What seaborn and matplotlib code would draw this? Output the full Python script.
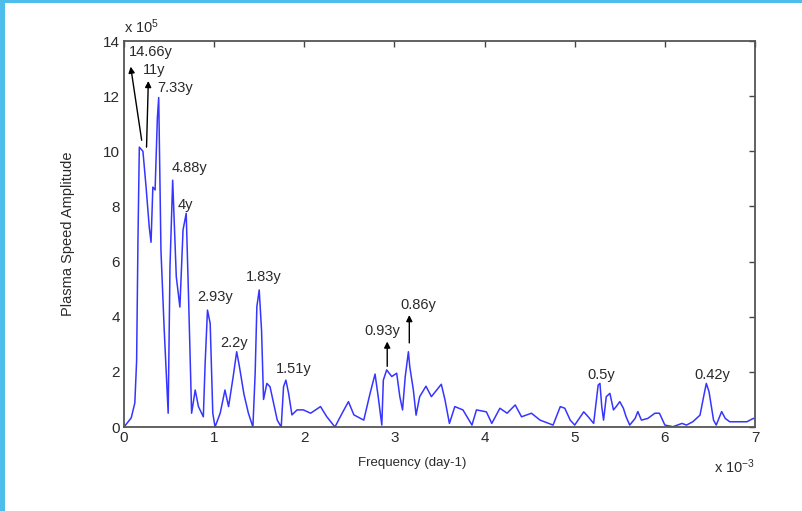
import numpy as np
import pandas as pd
import matplotlib
matplotlib.use("Agg")
import matplotlib.pyplot as plt
import seaborn as sns
from matplotlib.patches import Rectangle

# Frequency in units of 1e-3 day^-1, amplitude in units of 1e5
freq = [0, 0.08, 0.12, 0.14, 0.155, 0.17, 0.21, 0.245, 0.28, 0.30, 0.32, 0.345, 0.37, 0.385,
        0.41, 0.445, 0.49, 0.51, 0.54, 0.58, 0.62, 0.655, 0.69, 0.715, 0.75, 0.79, 0.826,
        0.88, 0.9, 0.926, 0.956, 0.985, 1.01, 1.067, 1.12, 1.16, 1.21, 1.25, 1.28, 1.33,
        1.38, 1.43, 1.455, 1.474, 1.5, 1.526, 1.548, 1.585, 1.62, 1.66, 1.70, 1.744, 1.77,
        1.796, 1.826, 1.863, 1.92, 1.99, 2.07, 2.18, 2.25, 2.34, 2.42, 2.49, 2.55, 2.66,
        2.73, 2.785, 2.82, 2.86, 2.877, 2.914, 2.97, 3.025, 3.06, 3.09, 3.12, 3.155, 3.17,
        3.21, 3.24, 3.28, 3.35, 3.41, 3.52, 3.56, 3.61, 3.67, 3.76, 3.86, 3.91, 4.02, 4.08,
        4.17, 4.25, 4.34, 4.41, 4.52, 4.615, 4.76, 4.84, 4.89, 4.95, 5.0, 5.1, 5.15, 5.21,
        5.26, 5.28, 5.30, 5.32, 5.35, 5.39, 5.43, 5.46, 5.5, 5.54, 5.57, 5.61, 5.67, 5.70,
        5.74, 5.81, 5.89, 5.94, 6.0, 6.09, 6.19, 6.24, 6.31, 6.39, 6.43, 6.46, 6.49, 6.54,
        6.57, 6.63, 6.67, 6.72, 6.83, 6.91, 6.98, 7.0]
amp = [0, 0.33, 0.87, 2.4, 6.8, 10.15, 10.0, 8.7, 7.25, 6.7, 8.7, 8.6, 11.2, 11.95,
       6.4, 3.6, 0.5, 5.8, 8.95, 5.45, 4.35, 7.15, 7.75, 4.85, 0.5, 1.34, 0.74,
       0.37, 2.3, 4.24, 3.76, 0.5, 0.0, 0.5, 1.34, 0.74, 1.8, 2.73, 2.2, 1.2,
       0.5, 0.0, 1.95, 4.37, 4.97, 3.5, 1.0, 1.58, 1.46, 0.86, 0.25, 0.0, 1.46,
       1.7, 1.22, 0.44, 0.62, 0.62, 0.5, 0.74, 0.37, 0.0, 0.5, 0.92, 0.44, 0.25,
       1.22, 1.92, 1.1, 0.07, 1.7, 2.07, 1.83, 1.95, 1.1, 0.62, 1.83, 2.73, 2.19,
       1.34, 0.43, 1.1, 1.48, 1.1, 1.55, 1.0, 0.13, 0.74, 0.62, 0.07, 0.62, 0.55, 0.13,
       0.68, 0.5, 0.8, 0.37, 0.5, 0.25, 0.07, 0.74, 0.68, 0.25, 0.07, 0.55, 0.37, 0.13,
       1.52, 1.58, 0.74, 0.25, 1.1, 1.22, 0.62, 0.74, 0.92, 0.68, 0.37, 0.07, 0.31, 0.56,
       0.25, 0.31, 0.5, 0.5, 0.07, 0.01, 0.13, 0.07, 0.19, 0.43, 1.1, 1.58, 1.28, 0.25,
       0.07, 0.56, 0.31, 0.19, 0.19, 0.19, 0.31, 0.3]

labels = ["14.66y", "11y", "7.33y", "4.88y", "4y", "2.93y", "2.2y", "1.83y",
          "1.51y", "0.93y", "0.86y", "0.5y", "0.42y"]
label_x = [0.05, 0.21, 0.37, 0.53, 0.60, 0.81, 1.07, 1.35, 1.68, 2.67, 3.07, 5.14, 6.33]
label_y = [13.6, 12.95, 12.3, 9.4, 8.05, 4.7, 3.05, 5.45, 2.1, 3.5, 4.42, 1.9, 1.9]

# arrows: (tail_x, tail_y, head_x, head_y)
arrow_tail_x = [0.196, 0.25, 2.92, 3.165]
arrow_tail_y = [10.4, 10.15, 2.2, 3.05]
arrow_head_x = [0.074, 0.27, 2.92, 3.165]
arrow_head_y = [13.07, 12.55, 3.1, 4.06]

xticks = list(range(0, 8))
yticks = list(range(0, 15, 2))

df = pd.DataFrame({"freq": freq, "amp": amp})

sns.set_style("white")
plt.rcParams["font.family"] = ["Liberation Sans", "DejaVu Sans"]
plt.rcParams["mathtext.fontset"] = "custom"
plt.rcParams["mathtext.rm"] = "Liberation Sans"
plt.rcParams["mathtext.it"] = "Liberation Sans:italic"

fig = plt.figure(figsize=(8.03, 5.11), dpi=100)
fig.patch.set_facecolor("white")
ax = fig.add_axes([124 / 803, 1 - 427 / 511, (755 - 124) / 803, (427 - 41) / 511])

sns.lineplot(data=df, x="freq", y="amp", ax=ax, color="#3535ff", lw=1.1,
             sort=False, estimator=None)

ax.set_xlim(0, 7)
ax.set_ylim(0, 14)
ax.set_xticks(xticks)
ax.set_yticks(yticks)
ax.tick_params(direction="in", top=True, right=True, length=4, width=1,
               color="#444444", labelsize=11, labelcolor="#2a2a2a", pad=3)
for s in ax.spines.values():
    s.set_color("#555555")
    s.set_linewidth(1.3)

ax.set_xlabel("Frequency (day-1)", fontsize=9.5, color="#2a2a2a")
ax.set_ylabel("Plasma Speed Amplitude", fontsize=10.5, color="#2a2a2a")
ax.xaxis.set_label_coords((412 - 124) / 631, -0.078)
ax.yaxis.set_label_coords(-0.078, 0.5)

ax.text(0.0, 1.012, r"x 10$^{5}$", transform=ax.transAxes, fontsize=10.5,
        color="#2a2a2a", ha="left", va="bottom")
ax.text(1.0, -0.08, r"x 10$^{-3}$", transform=ax.transAxes, fontsize=10.5,
        color="#2a2a2a", ha="right", va="top")

for t, lx, ly in zip(labels, label_x, label_y):
    ax.text(lx, ly, t, fontsize=10.5, color="#2a2a2a", ha="left", va="center")

for tx, ty, hx, hy in zip(arrow_tail_x, arrow_tail_y, arrow_head_x, arrow_head_y):
    ax.annotate("", xy=(hx, hy), xytext=(tx, ty),
                arrowprops=dict(arrowstyle="-|>", color="black", lw=1.0,
                                mutation_scale=9, shrinkA=0, shrinkB=0))

# light-blue frame strips on left and top edges
fig.patches.append(Rectangle((0, 0), 5 / 803, 1, transform=fig.transFigure,
                             facecolor="#4dbdec", edgecolor="none", zorder=10))
fig.patches.append(Rectangle((0, 1 - 3 / 511), 1, 3 / 511, transform=fig.transFigure,
                             facecolor="#4dbdec", edgecolor="none", zorder=10))

fig.savefig("out.png", dpi=100, facecolor="white")
